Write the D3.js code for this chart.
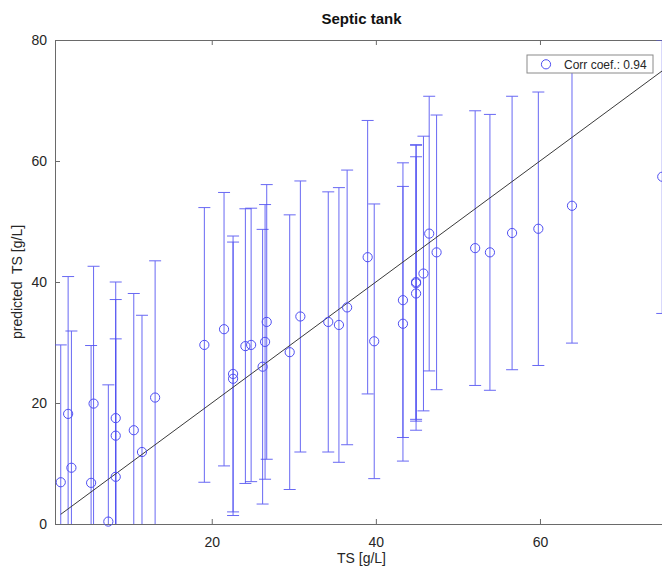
<!DOCTYPE html>
<html>
<head>
<meta charset="utf-8">
<script src="https://cdn.jsdelivr.net/npm/d3@7"></script>
<style>
  body { margin: 0; background: #fff; }
  svg { display: block; font-family: "Liberation Sans", Arial, sans-serif; }
</style>
</head>
<body>
<div id="chart"></div>
<script>
'use strict';

// measured TS (x) and predicted TS (y), both g/L, with half-width of the error bar
var tsMeasured = [1.6, 2.5, 2.9, 5.3, 5.6, 7.4, 8.3, 8.3, 8.3, 10.5, 11.5, 13.1,
  19.1, 21.5, 22.6, 22.6, 24.1, 24.8, 26.2, 26.5, 26.7, 29.5, 30.8, 34.2, 35.5, 36.5,
  39.0, 39.8, 43.3, 43.3, 44.9, 44.9, 44.9, 45.8, 46.5, 47.4, 52.1, 53.9, 56.6, 59.8,
  63.9, 74.9];
var tsPredicted = [6.9, 18.2, 9.3, 6.8, 19.9, 0.4, 17.5, 14.6, 7.8, 15.5, 11.9, 20.9,
  29.6, 32.2, 24.8, 24.0, 29.4, 29.6, 26.0, 30.1, 33.4, 28.4, 34.3, 33.4, 32.9, 35.8,
  44.1, 30.2, 37.0, 33.1, 40.0, 39.8, 38.1, 41.4, 48.0, 44.9, 45.6, 44.9, 48.1, 48.8,
  52.6, 57.4];
var predErr = [22.7, 22.7, 22.6, 22.7, 22.7, 22.6, 22.5, 22.5, 22.8, 22.6, 22.6, 22.6,
  22.7, 22.6, 22.8, 22.6, 22.7, 22.6, 22.7, 22.7, 22.7, 22.7, 22.4, 21.5, 22.7, 22.7,
  22.6, 22.7, 22.7, 22.7, 22.7, 22.8, 22.6, 22.7, 22.7, 22.7, 22.7, 22.8, 22.6, 22.6,
  22.7, 22.6];

var xTicks = [20, 40, 60];
var yTicks = [0, 20, 40, 60, 80];
var xDomain = [0.9, 75.6];
var yDomain = [0, 80];

var titleText = "Septic tank";
var xLabel = "TS [g/L]";
var yLabel = "predicted  TS [g/L]";
var legendText = "Corr coef.: 0.94";

var blue = "#4f4ff2";
var axisColor = "#6a6a6a";
var textColor = "#262626";

var W = 662, H = 568;
var margin = {top: 40, right: -6, bottom: 44, left: 55};
var width = W - margin.left - margin.right;
var height = H - margin.top - margin.bottom;

var data = tsMeasured.map(function(d, i) {
  return {x: d, y: tsPredicted[i], e: predErr[i]};
});

var svg = d3.select("#chart").append("svg")
  .attr("width", W)
  .attr("height", H);

var g = svg.append("g")
  .attr("transform", "translate(" + margin.left + "," + margin.top + ")");

var x = d3.scaleLinear().domain(xDomain).range([0, width]);
var y = d3.scaleLinear().domain(yDomain).range([height, 0]);

g.append("clipPath").attr("id", "plotclip")
  .append("rect")
  .attr("width", width)
  .attr("height", height);

// axes (ticks inward, MATLAB style)
function styleAxis(sel) {
  sel.selectAll("path.domain").attr("stroke", axisColor);
  sel.selectAll(".tick line").attr("stroke", axisColor);
  sel.selectAll(".tick text")
    .attr("fill", textColor)
    .style("font-size", "14px")
    .style("font-family", "'Liberation Sans', Arial, sans-serif");
}

g.append("g")
  .attr("transform", "translate(0," + height + ")")
  .call(d3.axisBottom(x).tickValues(xTicks).tickSizeInner(-5).tickSizeOuter(0).tickPadding(13))
  .call(styleAxis);

g.append("g")
  .call(d3.axisTop(x).tickValues(xTicks).tickSizeInner(-5).tickSizeOuter(0).tickFormat(""))
  .call(styleAxis);

g.append("g")
  .call(d3.axisLeft(y).tickValues(yTicks).tickSizeInner(-5).tickSizeOuter(0).tickPadding(8))
  .call(styleAxis);

// error bars
var plot = g.append("g").attr("clip-path", "url(#plotclip)");

var bars = plot.selectAll(".ebar")
  .data(data)
  .enter().append("g")
  .attr("class", "ebar")
  .attr("stroke", blue)
  .attr("stroke-width", 1)
  .attr("opacity", 0.85);

bars.append("line")
  .attr("x1", d => x(d.x)).attr("x2", d => x(d.x))
  .attr("y1", d => y(d.y - d.e)).attr("y2", d => y(d.y + d.e));
bars.append("line")
  .attr("x1", d => x(d.x) - 6).attr("x2", d => x(d.x) + 6)
  .attr("y1", d => y(d.y - d.e)).attr("y2", d => y(d.y - d.e));
bars.append("line")
  .attr("x1", d => x(d.x) - 6).attr("x2", d => x(d.x) + 6)
  .attr("y1", d => y(d.y + d.e)).attr("y2", d => y(d.y + d.e));

// 1:1 line over the measured range
var xr = d3.extent(tsMeasured);
plot.append("line")
  .attr("x1", x(xr[0])).attr("y1", y(xr[0]))
  .attr("x2", x(xr[1])).attr("y2", y(xr[1]))
  .attr("stroke", "#3a3a3a")
  .attr("stroke-width", 1);

// markers
g.selectAll(".pt")
  .data(data)
  .enter().append("circle")
  .attr("class", "pt")
  .attr("cx", d => x(d.x))
  .attr("cy", d => y(d.y))
  .attr("r", 4.6)
  .attr("fill", "none")
  .attr("stroke", blue)
  .attr("stroke-width", 1);

// title and labels
svg.append("text")
  .attr("x", margin.left + width / 2)
  .attr("y", 24)
  .attr("text-anchor", "middle")
  .attr("fill", "#111")
  .style("font-size", "15px")
  .style("font-weight", "bold")
  .text(titleText);

svg.append("text")
  .attr("x", margin.left + width / 2)
  .attr("y", 563)
  .attr("text-anchor", "middle")
  .attr("fill", textColor)
  .style("font-size", "14px")
  .text(xLabel);

svg.append("text")
  .attr("transform", "translate(22," + (margin.top + height / 2) + ") rotate(-90)")
  .attr("text-anchor", "middle")
  .attr("fill", textColor)
  .style("font-size", "14px")
  .style("white-space", "pre")
  .text(yLabel);

// legend
var lg = svg.append("g").attr("transform", "translate(527,55)");
lg.append("rect")
  .attr("width", 126)
  .attr("height", 18)
  .attr("fill", "#fff")
  .attr("stroke", "#8a8a8a")
  .attr("stroke-width", 1);
lg.append("circle")
  .attr("cx", 19).attr("cy", 9.3).attr("r", 4.6)
  .attr("fill", "none").attr("stroke", blue);
lg.append("text")
  .attr("x", 37).attr("y", 13.5)
  .attr("fill", textColor)
  .style("font-size", "12px")
  .text(legendText);
</script>
</body>
</html>
